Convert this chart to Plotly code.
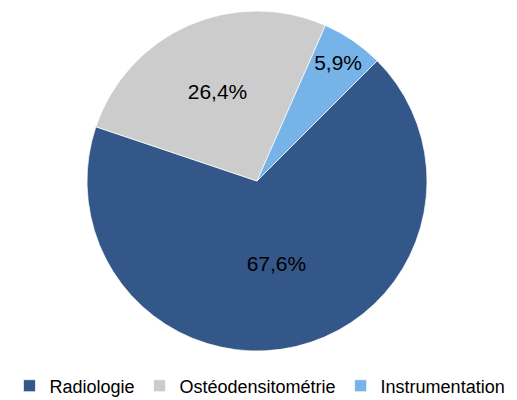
import plotly.graph_objects as go

labels = ["Radiologie", "Ostéodensitométrie", "Instrumentation"]
values = [67.6, 26.4, 5.9]
colors = ["#34578a", "#cccccc", "#76b3e8"]

fig = go.Figure(go.Pie(
    labels=labels,
    values=values,
    sort=False,
    direction="clockwise",
    rotation=45,
    domain=dict(x=[0.1552, 0.8232], y=[0.125, 0.9923]),
    marker=dict(colors=colors, line=dict(color="white", width=0.7)),
    texttemplate="%{value:.1f}%",
    textposition="inside",
    insidetextorientation="horizontal",
    textfont=dict(family="Liberation Sans, Arial, sans-serif", size=21, color="black"),
    hoverinfo="label+percent",
))

fig.update_layout(
    width=509, height=392,
    separators=", ",
    paper_bgcolor="white",
    plot_bgcolor="white",
    margin=dict(l=0, r=0, t=0, b=0, autoexpand=False),
    showlegend=True,
    legend=dict(
        orientation="h",
        x=0.495, xanchor="center",
        y=0.0357, yanchor="middle",
        font=dict(family="Liberation Sans, Arial, sans-serif", size=18, color="black"),
        itemwidth=30,
        tracegroupgap=0,
    ),
)

fig.write_html("out.html")
